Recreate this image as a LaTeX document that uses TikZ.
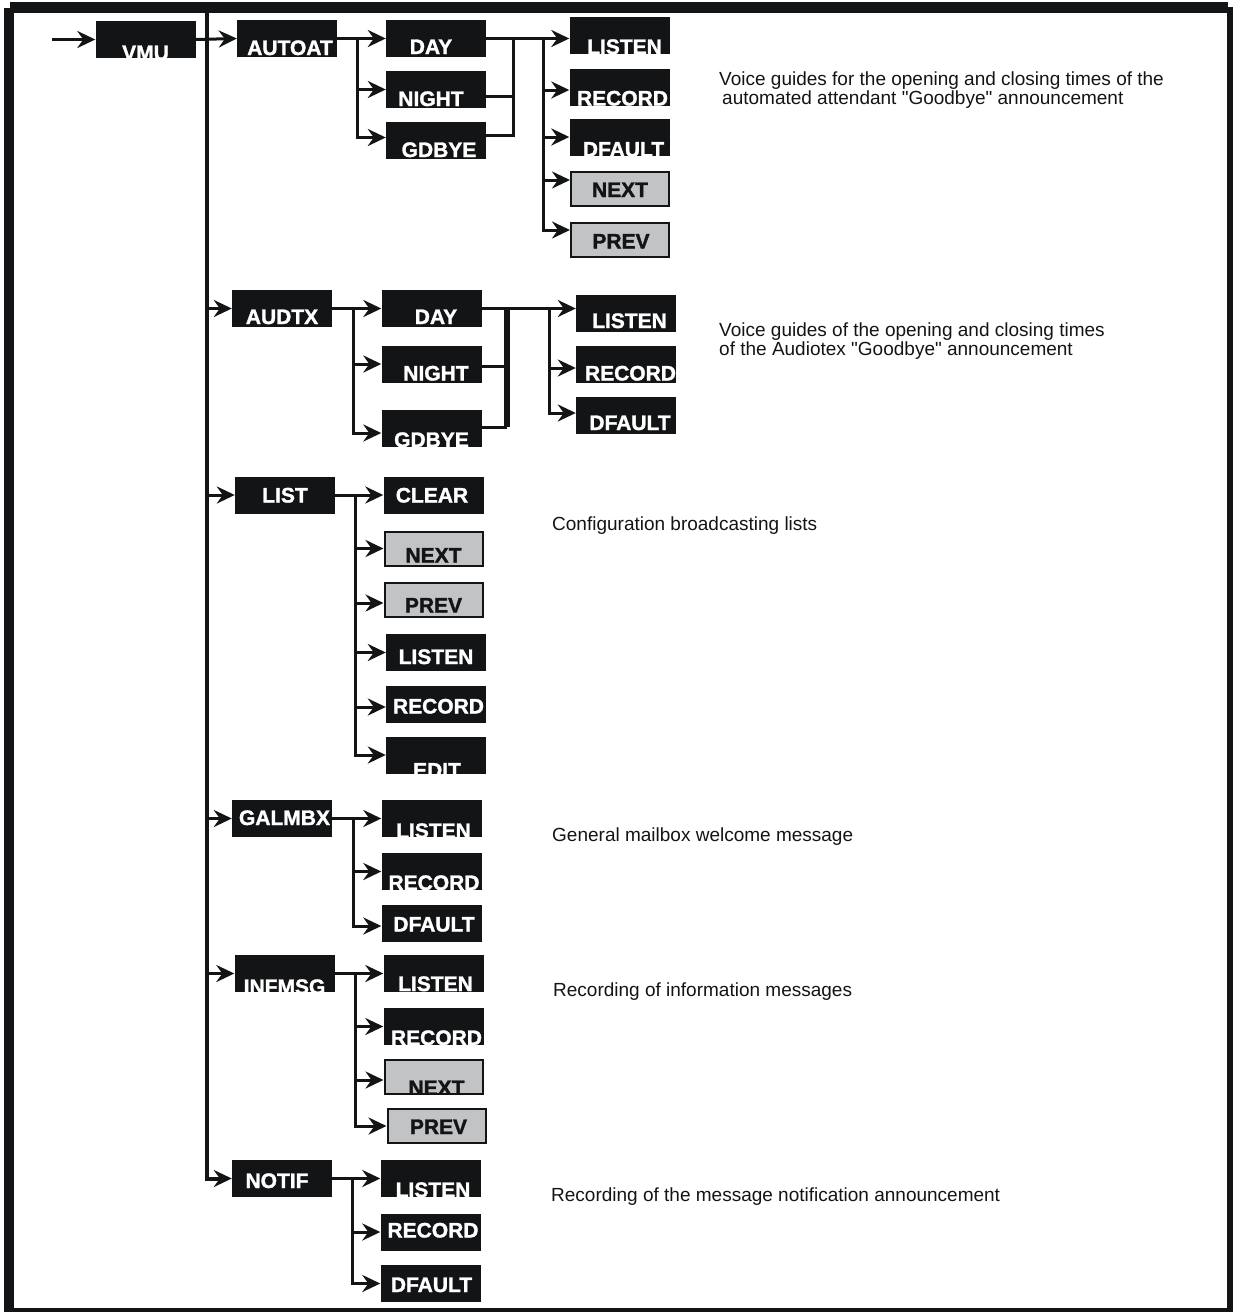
\documentclass[tikz,border=0pt]{standalone}
\usepackage{fontspec}
\setmainfont{Liberation Sans}
\newfontfamily\keyfam[BoldFeatures={FakeBold=1.5}]{Liberation Sans}
\usetikzlibrary{arrows.meta}
\definecolor{menublack}{RGB}{18,20,22}
\definecolor{softgray}{RGB}{193,195,197}
\newcommand{\keyfont}{\keyfam\fontsize{21}{21}\selectfont\bfseries}
\newcommand{\notefont}{\fontsize{19}{19}\selectfont}
\tikzset{
  keytext/.style={anchor=base, inner sep=0pt, draw=none, fill=none, minimum size=0pt, font=\keyfont},
  menu/.style n args={3}{fill=menublack, inner sep=0pt, minimum width=100pt, minimum height=37pt,
    path picture={\node[keytext, text=white] at ([xshift=#3pt, yshift=#2pt]path picture bounding box.south) {#1};}},
  softkey/.style n args={3}{fill=softgray, draw=menublack, line width=2pt, inner sep=0pt, minimum width=98pt, minimum height=34pt,
    path picture={\node[keytext, text=menublack] at ([xshift=#3pt, yshift=#2pt]path picture bounding box.south) {#1};}},
  tip/.tip={Stealth[length=18pt, width=17pt, inset=6pt]},
  link/.style={draw=menublack, line width=3pt, -tip},
  wire/.style={draw=menublack, line width=3pt},
  trunk/.style={draw=menublack, line width=4pt},
  note/.style={anchor=base west, inner sep=0pt, align=left, font=\notefont, text=menublack},
}

\begin{document}
\begin{tikzpicture}[x=1pt, y=-1pt]
  \useasboundingbox (0,0) rectangle (1233,1312);
  % frame
  \fill[menublack] (10,2) rectangle (1228,13);
  \fill[menublack] (4,8) rectangle (14,1312);
  \fill[menublack] (1227,7) rectangle (1233,1310);
  \fill[menublack] (14,1308) rectangle (1233,1312);

  % top level
  \node[menu={VMU}{-2}{0}] (vmu) at (145.5,39.5) {};
  \node[menu={AUTOAT}{2}{3}] (autoat) at (287,38.5) {};
  \node[menu={AUDTX}{3}{0}] (audtx) at (282,308.5) {};
  \node[menu={LIST}{11}{0}] (list) at (285,495) {};
  \node[menu={GALMBX}{12}{2.5}] (galmbx) at (282,818.5) {};
  \node[menu={INFMSG}{-2}{0}] (infmsg) at (284.5,973.5) {};
  \node[menu={NOTIF}{9}{-5}] (notif) at (282,1178.5) {};

  % AUTOAT
  \node[menu={DAY}{3}{-5}] (day1) at (436,38.5) {};
  \node[menu={NIGHT}{2}{-5}] (night1) at (436,89.5) {};
  \node[menu={GDBYE}{2}{3}] (gdbye1) at (436,140.5) {};
  \node[menu={LISTEN}{0}{5}] (listen1) at (619.5,35.5) {};
  \node[menu={RECORD}{0}{3}] (record1) at (619.5,87) {};
  \node[menu={DFAULT}{-1}{4}] (dfault1) at (619.5,137) {};
  \node[softkey={NEXT}{9}{0}] (next1) at (620,189) {};
  \node[softkey={PREV}{8}{1}] (prev1) at (620,239.5) {};

  % AUDTX
  \node[menu={DAY}{3}{4.5}] (day2) at (431.5,308.5) {};
  \node[menu={NIGHT}{2}{4.5}] (night2) at (431.5,364) {};
  \node[menu={GDBYE}{0}{0}] (gdbye2) at (431.5,428.5) {};
  \node[menu={LISTEN}{4}{3.5}] (listen2) at (626,313.5) {};
  \node[menu={RECORD}{2}{4.5}] (record2) at (626,364) {};
  \node[menu={DFAULT}{4}{4}] (dfault2) at (626,415.5) {};

  % LIST
  \node[menu={CLEAR}{11}{-1.5}] (clear) at (433.5,495) {};
  \node[softkey={NEXT}{3}{0}] (nextL) at (433.5,548.5) {};
  \node[softkey={PREV}{4}{0}] (prevL) at (433.5,599.5) {};
  \node[menu={LISTEN}{7}{0}] (listenL) at (436,652.5) {};
  \node[menu={RECORD}{9}{2.5}] (recordL) at (436,704) {};
  \node[menu={EDIT}{-4}{1}] (editL) at (436,755) {};

  % GALMBX
  \node[menu={LISTEN}{-1}{2}] (listenG) at (431.5,818.5) {};
  \node[menu={RECORD}{0}{2.5}] (recordG) at (431.5,871.5) {};
  \node[menu={DFAULT}{10}{2.5}] (dfaultG) at (431.5,923) {};

  % INFMSG
  \node[menu={LISTEN}{1}{2}] (listenI) at (433.5,973.5) {};
  \node[menu={RECORD}{0}{3}] (recordI) at (433.5,1026.5) {};
  \node[softkey={NEXT}{-1}{3}] (nextI) at (433.5,1077) {};
  \node[softkey={PREV}{9}{2}] (prevI) at (436.5,1126) {};

  % NOTIF
  \node[menu={LISTEN}{0}{2.5}] (listenN) at (430.5,1178.5) {};
  \node[menu={RECORD}{13}{2.5}] (recordN) at (430.5,1232) {};
  \node[menu={DFAULT}{10}{1}] (dfaultN) at (430.5,1283.5) {};

  % notes
  \node[note] (note1) at (719,104) {Voice guides for the opening and closing times of the\\\hspace*{3pt}automated attendant \textquotedbl Goodbye\textquotedbl{} announcement};
  \node[note] (note2) at (719,355) {Voice guides of the opening and closing times\\of the Audiotex \textquotedbl Goodbye\textquotedbl{} announcement};
  \node[note] (note3) at (552,530) {Configuration broadcasting lists};
  \node[note] (note4) at (552,841) {General mailbox welcome message};
  \node[note] (note5) at (553,996) {Recording of information messages};
  \node[note] (note6) at (551,1201) {Recording of the message notification announcement};

  % main trunk
  \coordinate (entry) at (52,39.5);
  \coordinate (trunktop) at (207,13);
  \draw[link] (entry) -- (vmu.west);
  \draw[trunk, -tip] (trunktop) |- (notif.west);
  \draw[link] (vmu.east) -- (autoat.west);
  \draw[link] (trunktop |- audtx.west) -- (audtx.west);
  \draw[link] (trunktop |- list.west) -- (list.west);
  \draw[link] (trunktop |- galmbx.west) -- (galmbx.west);
  \draw[link] (trunktop |- infmsg.west) -- (infmsg.west);

  % AUTOAT branches
  \coordinate (autoatbus) at (357,38.5);
  \coordinate (daymerge1) at (513,38.5);
  \coordinate (autoatkeys) at (543,38.5);
  \draw[link] (autoat.east) -- (day1.west);
  \draw[link] (autoatbus) |- (night1.west);
  \draw[link] (autoatbus) |- ([yshift=3pt]gdbye1.west);
  \draw[wire] ([yshift=-6.5pt]night1.east) -| (daymerge1);
  \draw[wire] ([yshift=5.5pt]gdbye1.east) -| (daymerge1);
  \draw[link] (day1.east) -- (day1.east -| listen1.west);
  \draw[link] (autoatkeys) |- ([yshift=-3pt]record1.west);
  \draw[link] (autoatkeys) |- (dfault1.west);
  \draw[link] (autoatkeys) |- ([yshift=9pt]next1.west);
  \draw[link] (autoatkeys) |- ([yshift=9.5pt]prev1.west);

  % AUDTX branches
  \coordinate (audtxbus) at (353,308.5);
  \coordinate (daymerge2) at (507,308.5);
  \coordinate (daymerge2end) at (507,427);
  \coordinate (audtxkeys) at (549,308.5);
  \draw[link] (audtx.east) -- (day2.west);
  \draw[link] (audtxbus) |- (night2.west);
  \draw[link] (audtxbus) |- ([yshift=-4.5pt]gdbye2.west);
  \draw[wire] ([yshift=-2pt]night2.east) -- ([yshift=-2pt]night2.east -| daymerge2);
  \draw[wire] (gdbye2.east |- daymerge2end) -- (daymerge2end);
  \draw[draw=menublack, line width=6pt] (daymerge2) -- (daymerge2end);
  \draw[link] (day2.east) -- (day2.east -| listen2.west);
  \draw[link] (audtxkeys) |- ([yshift=-4pt]record2.west);
  \draw[link] (audtxkeys) |- ([yshift=2.5pt]dfault2.west);

  % LIST branches
  \coordinate (listbus) at (355,495);
  \draw[link] (list.east) -- (clear.west);
  \draw[link] (listbus) |- (nextL.west);
  \draw[link] (listbus) |- ([yshift=-3.5pt]prevL.west);
  \draw[link] (listbus) |- (listenL.west);
  \draw[link] (listbus) |- ([yshift=-3pt]recordL.west);
  \draw[link] (listbus) |- (editL.west);

  % GALMBX branches
  \coordinate (galmbxbus) at (353,818.5);
  \draw[link] (galmbx.east) -- (listenG.west);
  \draw[link] (galmbxbus) |- (recordG.west);
  \draw[link] (galmbxbus) |- ([yshift=-3pt]dfaultG.west);

  % INFMSG branches
  \coordinate (infmsgbus) at (355,973.5);
  \draw[link] (infmsg.east) -- (listenI.west);
  \draw[link] (infmsgbus) |- (recordI.west);
  \draw[link] (infmsgbus) |- ([yshift=-3pt]nextI.west);
  \draw[link] (infmsgbus) |- (prevI.west);

  % NOTIF branches
  \coordinate (notifbus) at (352,1178.5);
  \draw[link] (notif.east) -- (listenN.west);
  \draw[link] (notifbus) |- (recordN.west);
  \draw[link] (notifbus) |- (dfaultN.west);
\end{tikzpicture}
\end{document}
